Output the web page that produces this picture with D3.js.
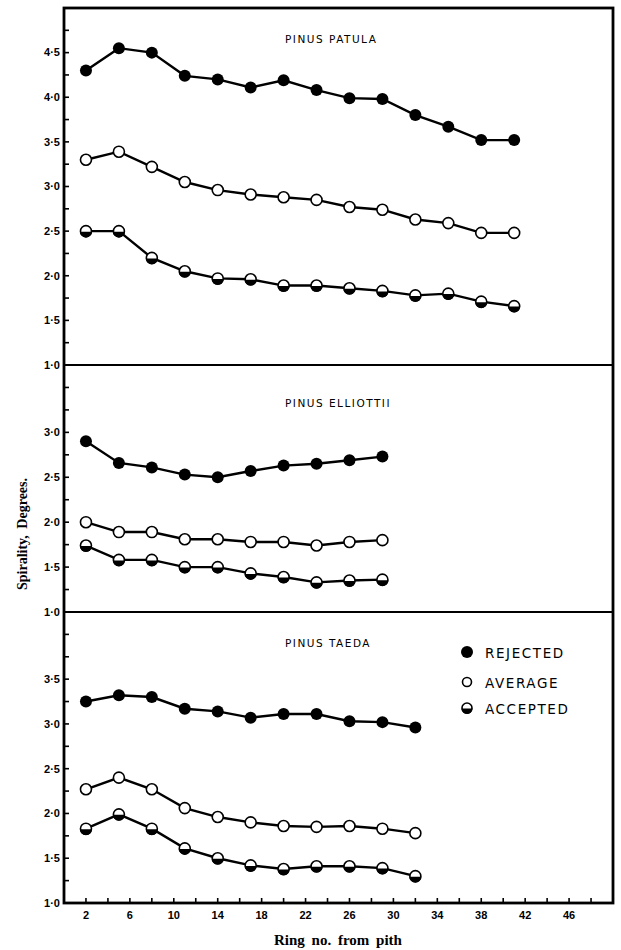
<!DOCTYPE html>
<html><head><meta charset="utf-8">
<script src="https://cdn.jsdelivr.net/npm/d3@7"></script>
<style>body{margin:0;background:#fff}svg{display:block}</style>
</head><body>
<svg id="c" width="621" height="950"></svg>
<script>
// ---- data ----
const rings14 = [2,5,8,11,14,17,20,23,26,29,32,35,38,41];
const rings10 = [2,5,8,11,14,17,20,23,26,29];
const rings11 = [2,5,8,11,14,17,20,23,26,29,32];

const patulaRejected = [4.30,4.55,4.50,4.24,4.20,4.11,4.19,4.08,3.99,3.98,3.80,3.67,3.52,3.52];
const patulaAverage  = [3.30,3.39,3.22,3.05,2.96,2.91,2.88,2.85,2.77,2.74,2.63,2.59,2.48,2.48];
const patulaAccepted = [2.50,2.50,2.20,2.05,1.97,1.96,1.89,1.89,1.86,1.83,1.78,1.80,1.71,1.66];

const elliottiiRejected = [2.90,2.66,2.61,2.53,2.50,2.57,2.63,2.65,2.69,2.73];
const elliottiiAverage  = [2.00,1.89,1.89,1.81,1.81,1.78,1.78,1.74,1.78,1.80];
const elliottiiAccepted = [1.74,1.58,1.58,1.50,1.50,1.43,1.39,1.33,1.35,1.36];

const taedaRejected = [3.25,3.32,3.30,3.17,3.14,3.07,3.11,3.11,3.03,3.02,2.96];
const taedaAverage  = [2.27,2.40,2.27,2.06,1.96,1.90,1.86,1.85,1.86,1.83,1.78];
const taedaAccepted = [1.83,1.99,1.83,1.61,1.50,1.42,1.38,1.41,1.41,1.39,1.30];

const panelTitles = ["PINUS PATULA","PINUS ELLIOTTII","PINUS TAEDA"];
const panelYMax = [5, 3.75, 4.25];
const panelYLabels = [[1,1.5,2,2.5,3,3.5,4,4.5],[1,1.5,2,2.5,3],[1,1.5,2,2.5,3,3.5]];
const xTickLabels = [2,6,10,14,18,22,26,30,34,38,42,46];
const legendLabels = ["REJECTED","AVERAGE","ACCEPTED"];
const kinds = ["rejected","average","accepted"];

// ---- layout ----
const svg = d3.select("#c");
const L = 64, R = 613, T = 8, B = 903;
const x = d3.scaleLinear().domain([0,50]).range([L,R]);
const bounds = [[365,T],[612,365],[B,612]];
const panels = [
  {rings:rings14, series:[patulaRejected,patulaAverage,patulaAccepted], titleY:43},
  {rings:rings10, series:[elliottiiRejected,elliottiiAverage,elliottiiAccepted], titleY:407},
  {rings:rings11, series:[taedaRejected,taedaAverage,taedaAccepted], titleY:647}
];
const fmt = v => d3.format(".1f")(v).replace(".", "\u00B7");

function marker(g, kind, cx, cy, r){
  if(kind==="rejected"){
    g.append("circle").attr("cx",cx).attr("cy",cy).attr("r",r+0.5).attr("fill","#000");
  } else if(kind==="average"){
    g.append("circle").attr("cx",cx).attr("cy",cy).attr("r",r).attr("fill","#fff").attr("stroke","#000").attr("stroke-width",1.6);
  } else {
    g.append("circle").attr("cx",cx).attr("cy",cy).attr("r",r).attr("fill","#fff").attr("stroke","#000").attr("stroke-width",1.6);
    const rr = r+0.5;
    g.append("path")
      .attr("d",`M${cx-rr},${cy+0.5} A${rr},${rr} 0 0 0 ${cx+rr},${cy+0.5} Z`)
      .attr("fill","#000");
  }
}

panels.forEach((p,i)=>{
  const y = d3.scaleLinear().domain([1,panelYMax[i]]).range(bounds[i]);
  const g = svg.append("g");
  const ticks = d3.range(1.25, panelYMax[i]-0.01, 0.25);
  g.selectAll("line.yt").data(ticks).join("line")
    .attr("x1",L).attr("x2",L+5).attr("y1",d=>y(d)).attr("y2",d=>y(d))
    .attr("stroke","#000").attr("stroke-width",1.6);
  g.selectAll("text.yl").data(panelYLabels[i]).join("text")
    .attr("x",L-4).attr("y",d=>y(d)).attr("dy","0.35em")
    .attr("text-anchor","end").attr("font-family","Liberation Sans, Arial, sans-serif")
    .attr("font-weight","bold").attr("font-size",11).text(fmt);
  g.append("text").attr("x",285).attr("y",p.titleY)
    .attr("font-family","DejaVu Sans, sans-serif").attr("font-size",10.5)
    .attr("letter-spacing",1.5).text(panelTitles[i]);
  const line = d3.line().x((d,j)=>x(p.rings[j])).y(d=>y(d));
  p.series.forEach((s,k)=>{
    g.append("path").attr("d",line(s)).attr("fill","none").attr("stroke","#000").attr("stroke-width",2.4);
  });
  p.series.forEach((s,k)=>{
    s.forEach((v,j)=> marker(g, kinds[k], x(p.rings[j]), y(v), 5.5));
  });
});

svg.append("rect").attr("x",L).attr("y",T).attr("width",R-L).attr("height",B-T)
  .attr("fill","none").attr("stroke","#000").attr("stroke-width",2.8);
[365,612].forEach(yy=>svg.append("line").attr("x1",L).attr("x2",R).attr("y1",yy).attr("y2",yy)
  .attr("stroke","#000").attr("stroke-width",2.2));

const xt = d3.range(2,50,2);
svg.selectAll("line.xt").data(xt).join("line")
  .attr("x1",d=>x(d)).attr("x2",d=>x(d)).attr("y1",B).attr("y2",B-5)
  .attr("stroke","#000").attr("stroke-width",1.6);
svg.selectAll("text.xl").data(xTickLabels).join("text")
  .attr("x",d=>x(d)).attr("y",919).attr("text-anchor","middle")
  .attr("font-family","Liberation Sans, Arial, sans-serif").attr("font-weight","bold")
  .attr("font-size",11).text(d=>d);

svg.append("text").attr("x",338).attr("y",945).attr("text-anchor","middle")
  .attr("font-family","Liberation Serif, Times New Roman, serif").attr("font-weight","bold")
  .attr("font-size",15).attr("word-spacing",3).text("Ring no. from pith");
svg.append("text").attr("transform","translate(22,534) rotate(-90)")
  .attr("text-anchor","middle").attr("dominant-baseline","central")
  .attr("font-family","Liberation Serif, Times New Roman, serif").attr("font-weight","bold")
  .attr("font-size",14).attr("word-spacing",3).text("Spirality, Degrees.");

const lg = svg.append("g");
const legY = [652,682,708];
const legR = [5.5,4.5,5];
legendLabels.forEach((t,k)=>{
  marker(lg, kinds[k], 467, legY[k], legR[k]);
  lg.append("text").attr("x",485).attr("y",legY[k]+6)
    .attr("font-family","DejaVu Sans, sans-serif").attr("font-size",13.5)
    .attr("letter-spacing",1.6).text(t);
});
</script>
</body></html>
